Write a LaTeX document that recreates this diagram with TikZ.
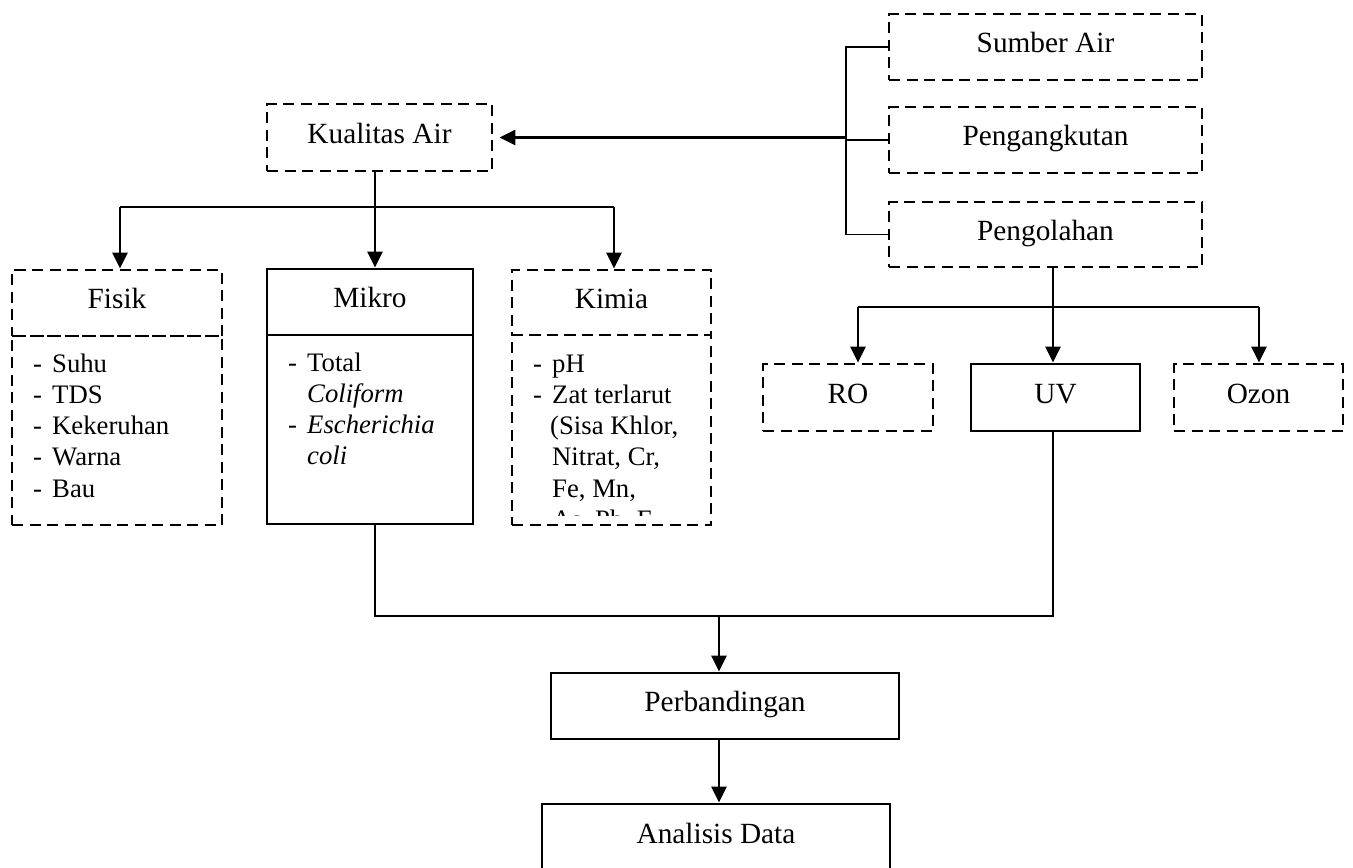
\documentclass[tikz,border=0pt]{standalone}
\usepackage{fontspec}
\setmainfont{Liberation Serif}
\usetikzlibrary{arrows.meta,calc}
\newcommand{\labfont}{\fontsize{29.3}{35}\selectfont}
\newcommand{\itmfont}{\fontsize{26.7}{31.3}\selectfont}
\tikzset{
  boxbase/.style={draw, line width=2.8pt, inner sep=0pt, font=\labfont,
    text height=20pt, text depth=8.6pt, align=center},
  dbox/.style={boxbase, dash pattern=on 11pt off 6.5pt},
  sbox/.style={boxbase},
  itm/.style={inner sep=0pt, anchor=base west, font=\itmfont},
  thinln/.style={line width=1.4pt},
  arr/.style={line width=2.8pt, -{Triangle[length=16pt,width=15pt]}}
}
\begin{document}
\begin{tikzpicture}[x=1pt,y=-1pt]
\useasboundingbox (0,0) rectangle (1353,868);
\fill[white] (0,0) rectangle (1353,868);

% top right group
\node[dbox, minimum width=313pt, minimum height=66pt] (sumber) at (1045.5,47) {Sumber Air};
\node[dbox, minimum width=313pt, minimum height=66pt] (angkut) at (1045.5,140) {Pengangkutan};
\node[dbox, minimum width=313pt, minimum height=65pt] (olah) at (1045.5,234.5) {Pengolahan};

% Kualitas Air
\node[dbox, minimum width=225pt, minimum height=67pt] (kual) at (379.5,137.5) {Kualitas Air};

% parameter boxes
\node[dbox, minimum width=210pt, minimum height=66pt] (fisikH) at (117,303) {Fisik};
\node[dbox, minimum width=210pt, minimum height=189pt] (fisikB) at (117,430.5) {};
\node[sbox, minimum width=206pt, minimum height=66pt] (mikroH) at (370,302) {Mikro};
\node[sbox, minimum width=206pt, minimum height=189pt] (mikroB) at (370,429.5) {};
\node[dbox, minimum width=199pt, minimum height=65pt] (kimiaH) at (611.5,302.5) {Kimia};
\node[dbox, minimum width=199pt, minimum height=190pt] (kimiaB) at (611.5,430) {};

% treatment boxes
\node[dbox, minimum width=170pt, minimum height=67pt] (ro) at (848,397.5) {RO};
\node[sbox, minimum width=169pt, minimum height=67pt] (uv) at (1055.5,397.5) {UV};
\node[dbox, minimum width=169pt, minimum height=67pt] (ozon) at (1258.5,397.5) {Ozon};

% bottom boxes
\node[sbox, minimum width=348pt, minimum height=66pt] (perb) at (725,706) {Perbandingan};
\node[sbox, minimum width=348pt, minimum height=67pt] (anal) at (716,837.5) {Analisis Data};

% list texts
\foreach \t [count=\i] in {Suhu,TDS,Kekeruhan,Warna,Bau} {
  \node[itm] (fd\i) at (33,{372+31.3*(\i-1)}) {-};
  \node[itm] (ft\i) at (52,{372+31.3*(\i-1)}) {\t};
}
\node[itm] (md1) at (288,371) {-};
\node[itm] (mt1) at (307,371) {Total};
\node[itm] (mt2) at (307,402.3) {\textit{Coliform}};
\node[itm] (md3) at (288,433.6) {-};
\node[itm] (mt3) at (307,433.6) {\textit{Escherichia}};
\node[itm] (mt4) at (307,464.9) {\textit{coli}};
\begin{scope}
  \clip (512,336) rectangle (711,515);
  \node[itm] (kd1) at (533,372) {-};
  \node[itm] (kt1) at (552,372) {pH};
  \node[itm] (kd2) at (533,403.3) {-};
  \node[itm] (kt2) at (552,403.3) {Zat terlarut};
  \node[itm] (kt3) at (550,434.6) {(Sisa Khlor,};
  \node[itm] (kt4) at (552,465.9) {Nitrat, Cr,};
  \node[itm] (kt5) at (552,497.2) {Fe, Mn,};
  \node[itm] (kt6) at (552,528.5) {As, Pb, F};
\end{scope}

% bracket to Kualitas Air
\coordinate (br) at (846,137.5);
\draw[thinln] (sumber.west) -| (br);
\draw[thinln] (olah.west) -| (br);
\draw[thinln] (angkut.west) -- (angkut.west -| br);
\draw[arr, shorten >=6pt] (br) -- (kual.east);

% Kualitas Air branches
\coordinate (kJ) at (375,207);
\coordinate (kL) at (120,207);
\coordinate (kR) at (614,207);
\draw[thinln] (kual.south -| kJ) -- (kJ);
\draw[thinln] (kL) -- (kR);
\draw[arr] (kL) -- (kL |- fisikH.north);
\draw[arr] (kJ) -- (kJ |- mikroH.north);
\draw[arr] (kR) -- (kR |- kimiaH.north);

% Pengolahan branches
\coordinate (oJ) at (1053,307);
\coordinate (oL) at (858,307);
\coordinate (oR) at (1259,307);
\draw[thinln] (olah.south -| oJ) -- (oJ);
\draw[thinln] (oL) -- (oR);
\draw[arr] (oL) -- (oL |- ro.north);
\draw[arr] (oJ) -- (oJ |- uv.north);
\draw[arr] (oR) -- (oR |- ozon.north);

% join to Perbandingan
\coordinate (bL) at (375,616);
\coordinate (bR) at (1053,616);
\coordinate (bJ) at (719,616);
\draw[thinln] (mikroB.south -| bL) -- (bL) -- (bR) -- (uv.south -| bR);
\draw[arr] (bJ) -- (bJ |- perb.north);
\draw[arr] (perb.south -| bJ) -- (bJ |- anal.north);
\end{tikzpicture}
\end{document}
